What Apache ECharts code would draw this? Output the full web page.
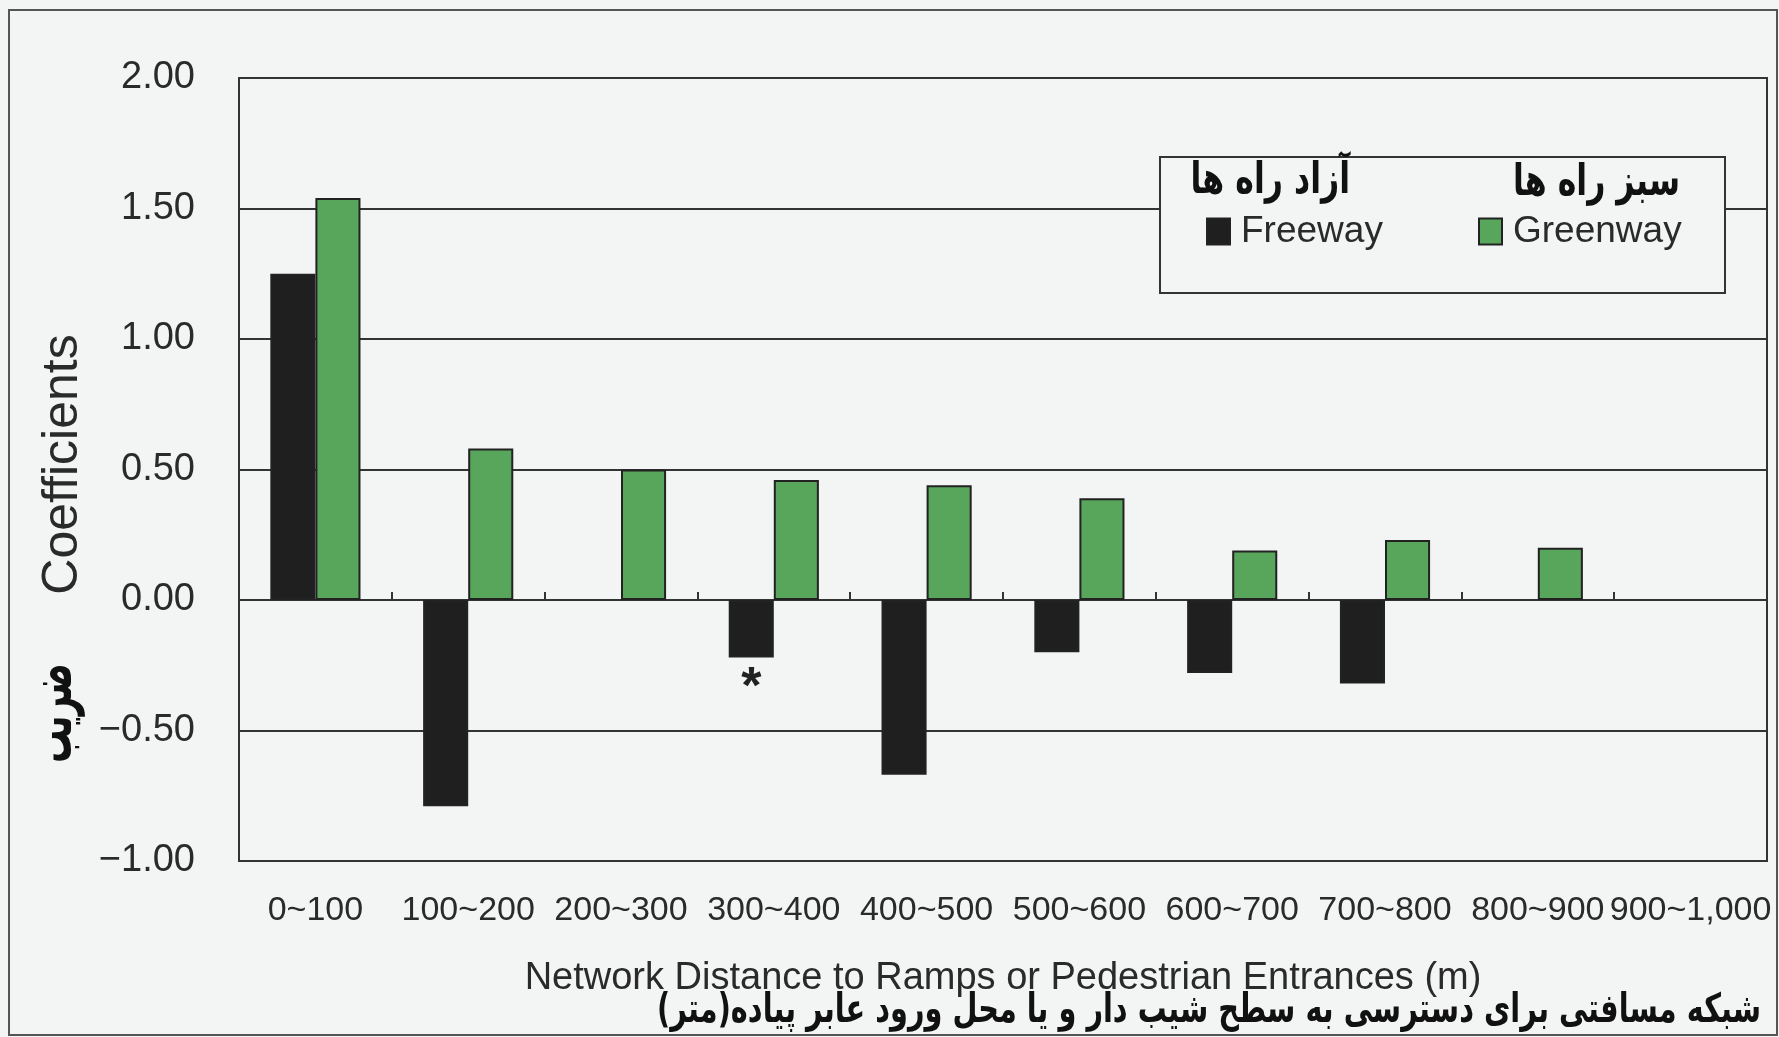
<!DOCTYPE html>
<html>
<head>
<meta charset="utf-8">
<script src="https://cdn.jsdelivr.net/npm/echarts@6/dist/echarts.min.js"></script>
<style>
html,body{margin:0;padding:0;background:#f3f4f4;}
#chart{width:1779px;height:1037px;}
</style>
</head>
<body>
<div id="chart"></div>
<script>
const categories = ['0~100','100~200','200~300','300~400','400~500','500~600','600~700','700~800','800~900','900~1,000'];
const freeway = [1.25, -0.79, null, -0.22, -0.67, -0.20, -0.28, -0.32, null, null];
const greenway = [1.54, 0.58, 0.50, 0.46, 0.44, 0.39, 0.19, 0.23, 0.20, null];
const freewayMarks = ['', '', '', '*', '', '', '', '', '', ''];
const yMin = -1, yMax = 2, yStep = 0.5;
const seriesNames = ['Freeway', 'Greenway'];
const seriesNamesFa = ['آزاد راه ها', 'سبز راه ها'];
const yName = 'Coefficients';
const yNameFa = 'ضریب';
const xName = 'Network Distance to Ramps or Pedestrian Entrances (m)';
const xNameFa = 'شبکه مسافتی برای دسترسی به سطح شیب دار و یا محل ورود عابر پیاده(متر)';

const LATIN = 'Liberation Sans, Arial, sans-serif';
const FA = 'DejaVu Sans, sans-serif';
const INK = '#2a2a2a';

const freewayData = freeway.map((v, i) => freewayMarks[i] ? {
  value: v,
  label: {show: true, position: 'bottom', distance: 5, formatter: freewayMarks[i],
          fontSize: 52, fontWeight: 'bold', color: '#222', fontFamily: LATIN}
} : v);

const chart = echarts.init(document.getElementById('chart'), null, {renderer: 'canvas'});
chart.setOption({
  backgroundColor: '#f3f4f4',
  animation: false,
  grid: {left: 239, right: 12, top: 78, bottom: 176, show: true, borderColor: '#333', borderWidth: 2, backgroundColor: 'transparent'},
  legend: [
    {data: [seriesNames[0]], left: 1201, top: 208, itemWidth: 23, itemHeight: 26, z: 20, icon: 'rect',
     textStyle: {fontSize: 37, color: INK, fontFamily: LATIN, padding: [0,0,0,6]}},
    {data: [seriesNames[1]], left: 1473, top: 208, itemWidth: 23, itemHeight: 26, z: 20, icon: 'rect',
     textStyle: {fontSize: 37, color: INK, fontFamily: LATIN, padding: [0,0,0,6]}}
  ],
  xAxis: [
    {type: 'category', data: categories, position: 'bottom',
     axisLine: {show: false, onZero: false}, axisTick: {show: false},
     axisLabel: {interval: 0, fontSize: 34, color: INK, fontFamily: LATIN, margin: 33},
     name: xName, nameLocation: 'middle', nameGap: 99,
     nameTextStyle: {fontSize: 38, color: INK, fontFamily: LATIN}},
    {type: 'category', data: categories, position: 'bottom',
     axisLine: {show: true, onZero: true, lineStyle: {color: '#333', width: 2}},
     axisTick: {show: true, inside: true, length: 8, lineStyle: {color: '#333', width: 2}},
     axisLabel: {show: false}}
  ],
  yAxis: {type: 'value', min: yMin, max: yMax, interval: yStep,
    axisLine: {show: false}, axisTick: {show: false},
    splitLine: {show: true, lineStyle: {color: '#333', width: 2}},
    axisLabel: {fontSize: 38, color: INK, fontFamily: LATIN, margin: 44,
      formatter: v => v.toFixed(2).replace('-', '\u2212')},
    name: yName, nameLocation: 'middle', nameGap: 147,
    nameTextStyle: {fontSize: 50, color: INK, fontFamily: LATIN, padding: [0, 0, 0, 10]}},
  series: [
    {name: seriesNames[0], type: 'bar', xAxisIndex: 0, data: freewayData,
     barWidth: '29.5%', barGap: '0%',
     itemStyle: {color: '#1f1f1f', borderColor: '#222', borderWidth: 2}},
    {name: seriesNames[1], type: 'bar', xAxisIndex: 0, data: greenway,
     barWidth: '29.5%', barGap: '0%',
     itemStyle: {color: '#58a55c', borderColor: '#222', borderWidth: 2}}
  ],
  graphic: {elements: [
    {type: 'rect', z: 10, shape: {x: 1160, y: 157, width: 565, height: 136},
     style: {fill: '#f3f4f4', stroke: '#333', lineWidth: 2}},
    {type: 'text', z: 11, x: 1350, y: 182, scaleX: 0.79, scaleY: 1.1,
     style: {text: seriesNamesFa[0], fontSize: 40, fontWeight: 'bold', fontFamily: FA, fill: '#111', align: 'right', verticalAlign: 'middle'}},
    {type: 'text', z: 11, x: 1680, y: 184, scaleX: 0.79, scaleY: 1.1,
     style: {text: seriesNamesFa[1], fontSize: 40, fontWeight: 'bold', fontFamily: FA, fill: '#111', align: 'right', verticalAlign: 'middle'}},
    {type: 'text', z: 11, x: 56, y: 713, rotation: Math.PI / 2, scaleX: 0.685, scaleY: 1.2,
     style: {text: yNameFa, fontSize: 48, fontWeight: 'bold', fontFamily: FA, fill: '#111', align: 'center', verticalAlign: 'middle'}},
    {type: 'text', z: 11, x: 1761, y: 1012, scaleX: 0.8, scaleY: 1.12,
     style: {text: xNameFa, fontSize: 36, fontWeight: 'bold', fontFamily: FA, fill: '#111', align: 'right', verticalAlign: 'middle'}},
    {type: 'rect', z: 1, silent: true, shape: {x: 9, y: 10, width: 1768, height: 1025},
     style: {fill: 'none', stroke: '#555', lineWidth: 2}}
  ]}
});
</script>
</body>
</html>
